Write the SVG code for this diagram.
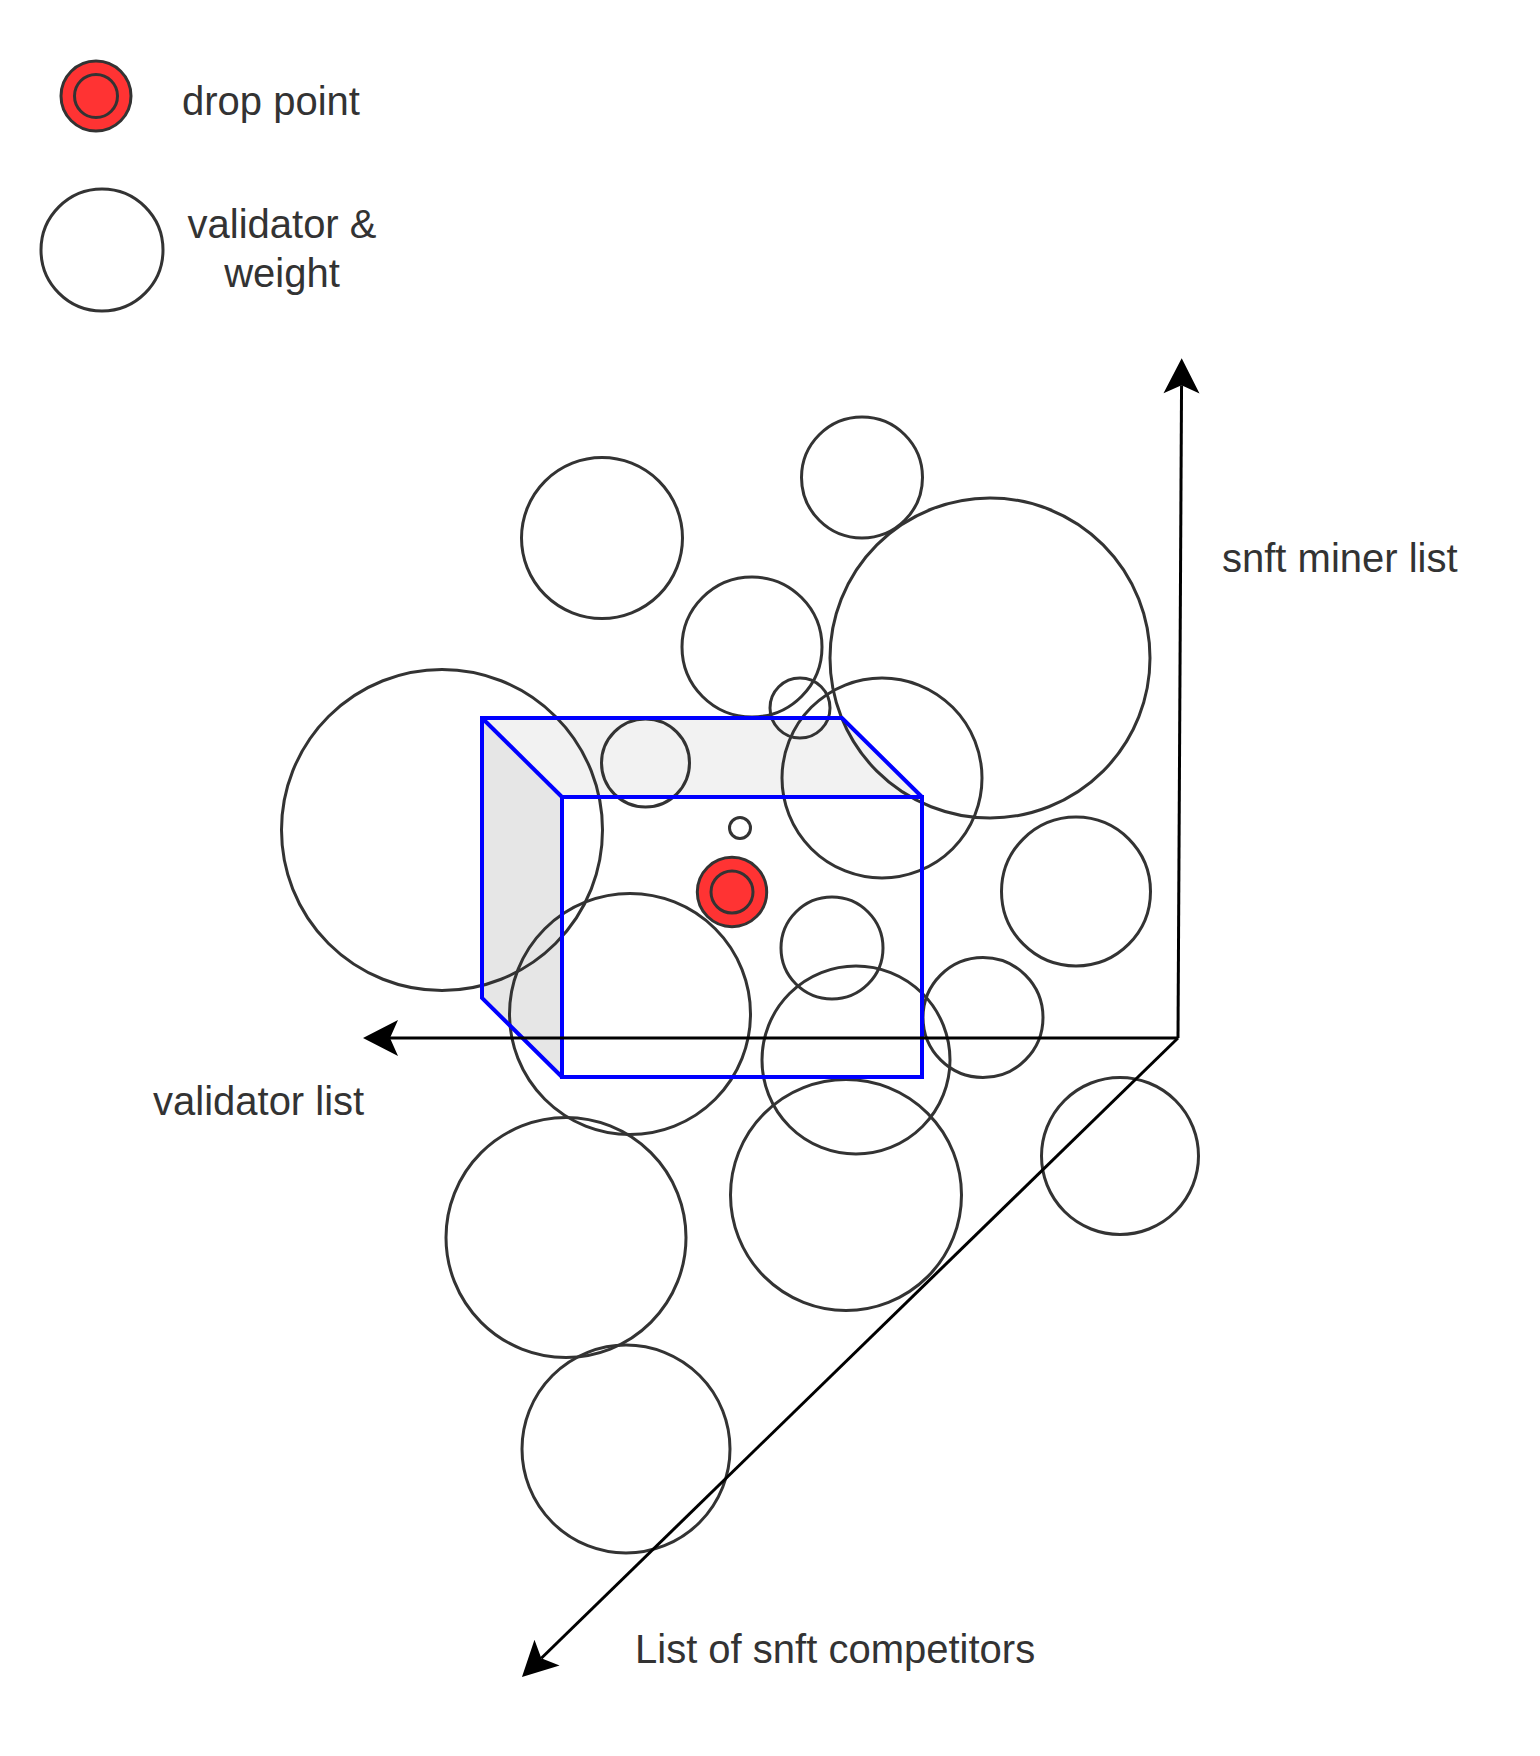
<svg xmlns="http://www.w3.org/2000/svg" width="1540" height="1756" viewBox="0 0 1540 1756">
<style>
.v{fill:none;stroke:#333333;stroke-width:3}
.drop{fill:#ff3333;stroke:#333333;stroke-width:3}
.edge{fill:none;stroke:#0000ff;stroke-width:4;stroke-linejoin:miter}
.axis{fill:none;stroke:#000000;stroke-width:3}
.t{font-family:"Liberation Sans",Arial,Helvetica,sans-serif;font-size:40px;fill:#333333}
</style>
<defs>
<marker id="arrow" viewBox="0 0 36 36" markerUnits="userSpaceOnUse" markerWidth="36" markerHeight="36" refX="8" refY="18" orient="auto" overflow="visible">
<path d="M35,18 L0,0 L8,18 L0,36 Z" fill="#000000"/>
</marker>
</defs>
<rect x="0" y="0" width="1540" height="1756" fill="#ffffff"/>

<g id="legend-drop">
<circle class="drop" cx="96" cy="96" r="35"/>
<circle class="drop" cx="96" cy="96" r="21.5"/>
<text class="t" x="182" y="115">drop point</text>
</g>
<g id="legend-validator">
<circle class="v" cx="102" cy="250" r="61"/>
<text class="t" x="282" y="238" text-anchor="middle">validator &amp;</text>
<text class="t" x="282" y="287" text-anchor="middle">weight</text>
</g>

<g id="cube-faces">
<polygon points="482,718 842,718 922,797 562,797" fill="#f2f2f2"/>
<polygon points="482,718 562,797 562,1077 482,998" fill="#e6e6e6"/>
</g>

<g id="validators">
<circle id="v1" class="v" cx="602" cy="538" r="80.5"/>
<circle id="v2" class="v" cx="862" cy="477.5" r="60.5"/>
<circle id="v3" class="v" cx="990" cy="658" r="160"/>
<circle id="v4" class="v" cx="752" cy="647" r="70"/>
<circle id="v5" class="v" cx="800" cy="708" r="30"/>
<circle id="v6" class="v" cx="882" cy="778" r="100"/>
<circle id="v7" class="v" cx="442" cy="830" r="160.5"/>
<circle id="v8" class="v" cx="645.5" cy="763" r="44"/>
<circle id="v9" class="v" cx="740" cy="828" r="10.5"/>
<circle id="v11" class="v" cx="630" cy="1014" r="120.5"/>
<circle id="v12" class="v" cx="832" cy="948" r="51"/>
<circle id="v13" class="v" cx="856" cy="1060" r="94"/>
<circle id="v14" class="v" cx="983" cy="1017.5" r="60"/>
<circle id="v15" class="v" cx="1076" cy="891.5" r="74.5"/>
<circle id="v16" class="v" cx="1120" cy="1156" r="78.5"/>
<circle id="v17" class="v" cx="846" cy="1195" r="115.5"/>
<circle id="v18" class="v" cx="566" cy="1237.5" r="120"/>
<circle id="v19" class="v" cx="626" cy="1449" r="104"/>
</g>

<g id="cube-edges">
<polyline class="edge" points="562,1077 482,998 482,718 842,718 922,797"/>
<line class="edge" x1="482" y1="718" x2="562" y2="797"/>
<rect class="edge" x="562" y="797" width="360" height="280"/>
</g>

<g id="drop-point">
<circle class="drop" cx="732" cy="892" r="34.7"/>
<circle class="drop" cx="732" cy="892" r="21"/>
</g>

<g id="connectors">
<line class="axis" x1="1178" y1="1038" x2="390" y2="1038" marker-end="url(#arrow)"/>
<line class="axis" x1="1178" y1="1038" x2="1181.55" y2="385.3" marker-end="url(#arrow)"/>
<line class="axis" x1="1178" y1="1038" x2="541.3" y2="1658.2" marker-end="url(#arrow)"/>
</g>

<g id="labels">
<text class="t" x="1222" y="572">snft miner list</text>
<text class="t" x="153" y="1115">validator list</text>
<text class="t" x="635" y="1663">List of snft competitors</text>
</g>
</svg>
